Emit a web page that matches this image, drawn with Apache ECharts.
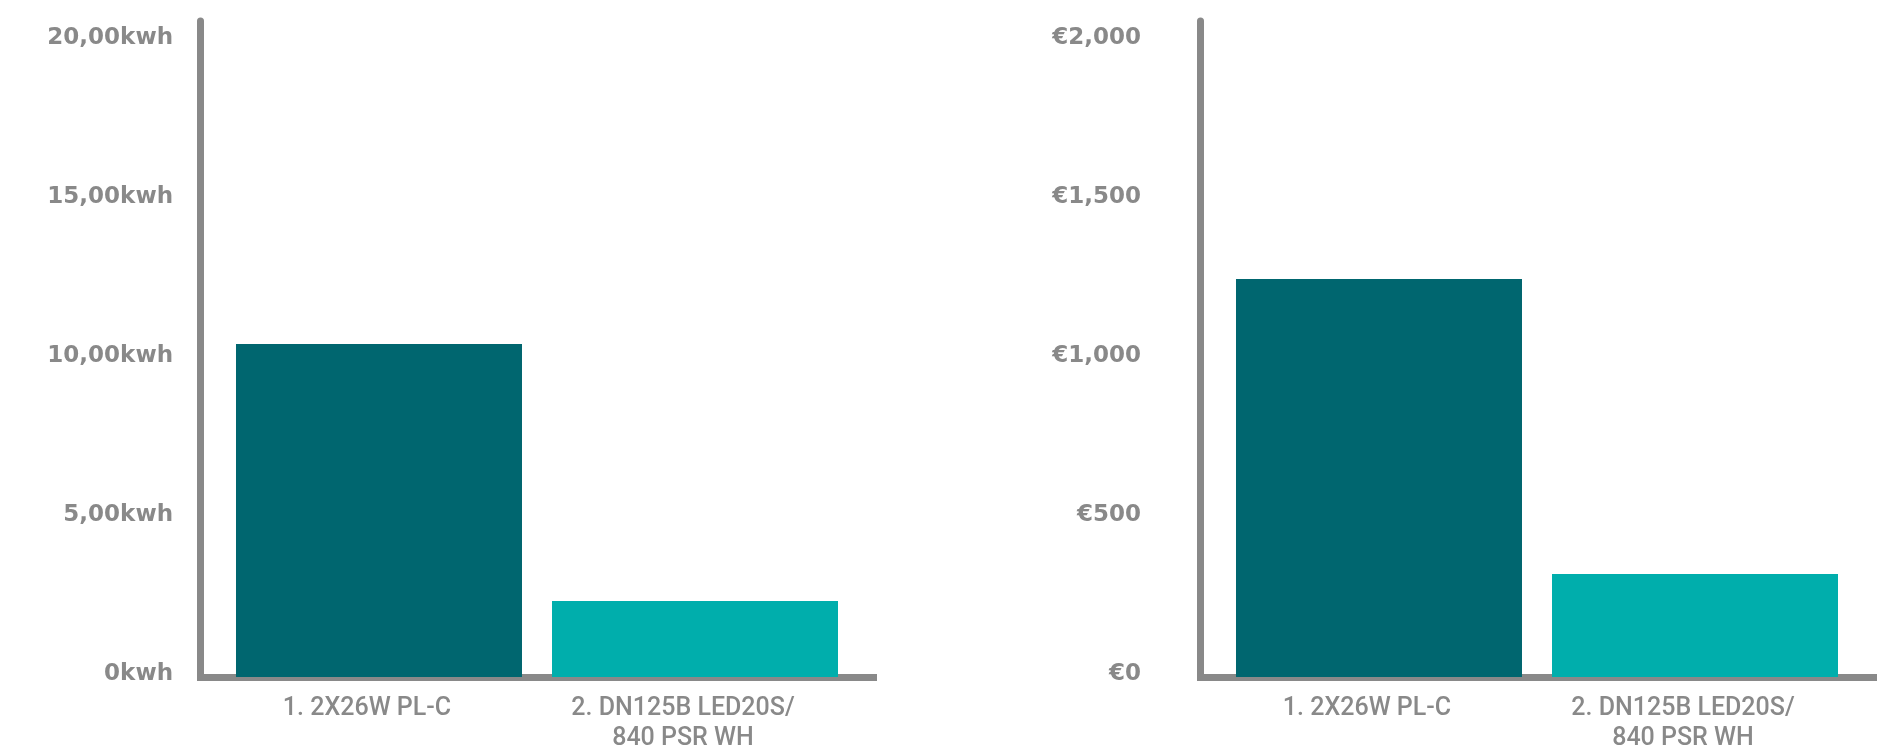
<!DOCTYPE html>
<html>
<head>
<meta charset="utf-8">
<style>
  html, body { margin: 0; padding: 0; background: #ffffff; }
  #chart { width: 1904px; height: 756px; }
</style>
<script src="https://cdn.jsdelivr.net/npm/echarts@6/dist/echarts.min.js"></script>
</head>
<body>
<div id="chart"></div>
<script>
// ---- data ----
const categories = ['1. 2X26W PL-C', '2. DN125B LED20S/\n840 PSR WH'];
const energyKwh = [10.47, 2.39];
const costEur = [1252, 324];
const energyTickLabels = ['0kwh', '5,00kwh', '10,00kwh', '15,00kwh', '20,00kwh'];
const costTickLabels = ['€0', '€500', '€1,000', '€1,500', '€2,000'];
const barColors = ['#00666f', '#00aeac'];

// ---- styling ----
const GRAY = '#898989';
const AXIS_FONT = { fontFamily: 'DejaVu Sans', fontSize: 23, fontWeight: 'bold', color: GRAY };
const CAT_FONT = { fontFamily: 'Roboto', fontSize: 25, fontWeight: 500, color: GRAY };

function valueAxis(gridIndex, interval, max, labels, margin) {
  return {
    type: 'value', gridIndex: gridIndex, min: 0, max: max, interval: interval,
    axisLine: { show: true, lineStyle: { color: GRAY, width: 7 } },
    axisTick: { show: false },
    splitLine: { show: false },
    axisLabel: Object.assign({}, AXIS_FONT, {
      margin: margin,
      showMaxLabel: false,
      verticalAlign: 'bottom',
      lineHeight: 6,
      formatter: function (v) {
        const i = Math.round(v / interval);
        return Math.abs(v - i * interval) < 1e-6 && labels[i] !== undefined ? labels[i] : '';
      }
    })
  };
}

function catAxis(gridIndex) {
  return {
    type: 'category', gridIndex: gridIndex, data: [''], offset: 3.5,
    axisLine: { show: true, lineStyle: { color: GRAY, width: 7, cap: 'square' } },
    axisTick: { show: false },
    axisLabel: { show: false }
  };
}

function barSeries(values, axisIndex) {
  return categories.map(function (name, i) {
    return {
      type: 'bar', name: name, xAxisIndex: axisIndex, yAxisIndex: axisIndex,
      data: [values[i]],
      barWidth: 286, barGap: '10.49%',
      itemStyle: { color: barColors[i] },
      label: Object.assign({}, CAT_FONT, {
        show: true, position: 'bottom', distance: 17, lineHeight: 30,
        align: 'center', offset: [-12, 0], formatter: name
      }),
      emphasis: { disabled: true },
      animation: false
    };
  });
}

const chart = echarts.init(document.getElementById('chart'), null, { renderer: 'canvas' });
chart.setOption({
  animation: false,
  grid: [
    { left: 200.5, top: 21, width: 673, bottom: 79 },
    { left: 1200.5, top: 21, width: 673, bottom: 79 }
  ],
  xAxis: [catAxis(0), catAxis(1)],
  yAxis: [
    valueAxis(0, 5, 20.63, energyTickLabels, 27.5),
    valueAxis(1, 500, 2063, costTickLabels, 59.5)
  ],
  series: barSeries(energyKwh, 0).concat(barSeries(costEur, 1))
});
</script>
</body>
</html>
